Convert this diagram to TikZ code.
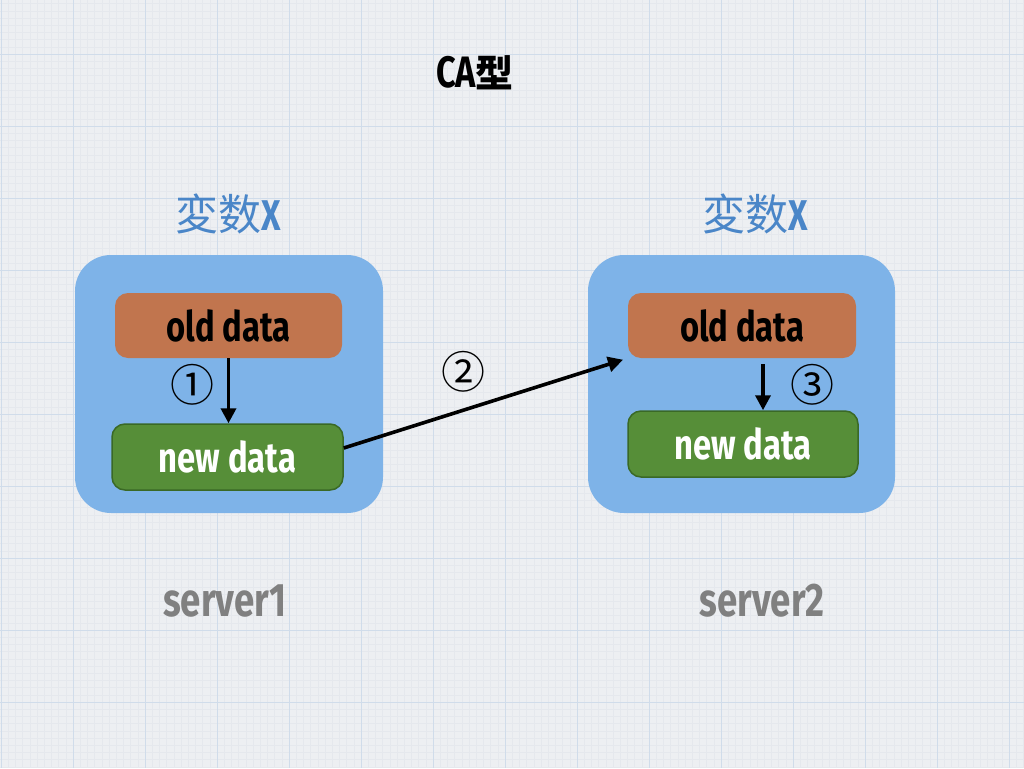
\documentclass[tikz,border=0pt]{standalone}
\usepackage{fontspec}
\usetikzlibrary{arrows.meta}
\newfontfamily\hand[FakeStretch=0.78]{Fira Sans}
\newfontfamily\cjk{Noto Sans CJK SC}
\definecolor{bgc}{RGB}{237,239,242}
\definecolor{minorc}{RGB}{229,232,237}
\definecolor{majorc}{RGB}{208,220,234}
\definecolor{boxblue}{RGB}{126,179,232}
\definecolor{oldc}{RGB}{193,117,78}
\definecolor{newc}{RGB}{86,142,56}
\definecolor{newb}{RGB}{58,105,38}
\definecolor{vblue}{RGB}{74,134,200}
\definecolor{srvgrey}{RGB}{128,128,128}
\tikzset{
  server/.style={fill=boxblue, draw=none, rounded corners=36pt, minimum width=308pt, minimum height=258pt},
  oldbox/.style={fill=oldc, draw=none, rounded corners=13pt, minimum width=227pt, minimum height=65pt,
    font=\hand\bfseries\fontsize{42}{46}\selectfont, text=black},
  newbox/.style={fill=newc, draw=newb, line width=1.5pt, rounded corners=13pt, minimum width=230pt, minimum height=66pt,
    font=\hand\bfseries\fontsize{42}{46}\selectfont, text=white},
  varlabel/.style={text=vblue, font=\fontsize{43}{47}\selectfont},
  srvlabel/.style={text=srvgrey, font=\hand\bfseries\fontsize{47}{51}\selectfont},
  steplabel/.style={font=\cjk\fontsize{44}{48}\selectfont, text=black},
  conn/.style={line width=3.6pt, -{Triangle[length=15pt,width=15pt]}},
}
\begin{document}
\begin{tikzpicture}[x=1pt,y=-1pt]
\useasboundingbox (0,0) rectangle (1024,768);
\fill[bgc] (0,0) rectangle (1024,768);
\foreach \i in {0,...,142} {
  \draw[minorc, line width=0.5pt] ({1+7.2*\i},0) -- ({1+7.2*\i},768);
}
\foreach \i in {0,...,107} {
  \draw[minorc, line width=0.5pt] (0,{54+7.2*(\i-8)}) -- (1024,{54+7.2*(\i-8)});
}
\foreach \i in {0,...,14} {
  \draw[majorc, line width=0.8pt] ({1+72*\i},0) -- ({1+72*\i},768);
}
\foreach \i in {0,...,11} {
  \draw[majorc, line width=0.8pt] (0,{54+72*(\i-1)}) -- (1024,{54+72*(\i-1)});
}

\node (title) at (475,73) {\hand\bfseries\fontsize{44}{48}\selectfont CA\cjk\fontsize{38}{42}\selectfont 型};

\node[varlabel] (var1) at (228,214) {\cjk 変数\hand\bfseries X};
\node[varlabel] (var2) at (755,214) {\cjk 変数\hand\bfseries X};

\node[server] (s1) at (229,384) {};
\node[server, minimum width=307pt] (s2) at (741.5,384) {};

\node[oldbox] (old1) at (228.5,325.5) {old data};
\node[newbox, minimum width=231pt] (new1) at (227.5,457) {new data};
\node[oldbox, minimum width=228pt] (old2) at (742,325.5) {old data};
\node[newbox] (new2) at (743,444) {new data};

\draw[conn] (old1.south) -- (old1.south |- new1.north);
\draw[conn, shorten <=6pt] ([xshift=21pt]old2.south) -- ([xshift=20pt]new2.north);
\draw[conn, shorten >=5pt] ([yshift=9pt]new1.east) -- (old2.south west);

\node[steplabel] (c1) at (192,385) {①};
\node[steplabel] (c2) at (463,372) {②};
\node[steplabel] (c3) at (812,385) {③};

\node[srvlabel] (srv1) at (225,601) {server1};
\node[srvlabel] (srv2) at (762,601) {server2};
\end{tikzpicture}
\end{document}
